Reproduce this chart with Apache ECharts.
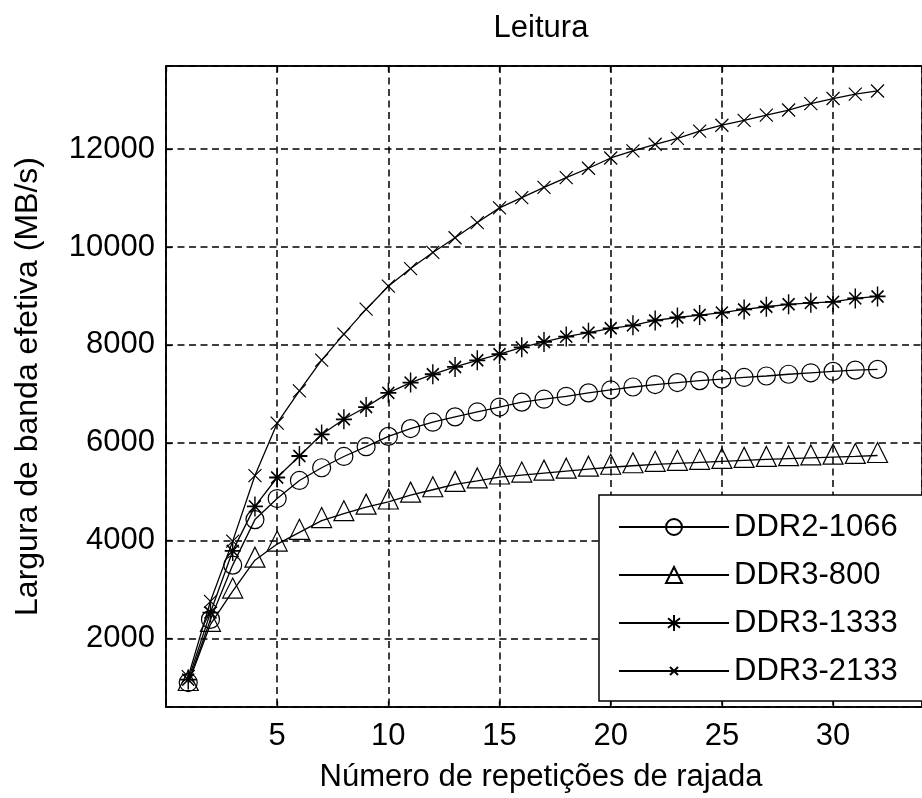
<!DOCTYPE html>
<html>
<head>
<meta charset="utf-8">
<script src="https://cdn.jsdelivr.net/npm/echarts@6/dist/echarts.min.js"></script>
<style>
html,body{margin:0;padding:0;background:#fff;}
#c{width:922px;height:798px;}
</style>
</head>
<body>
<div id="c"></div>
<script>
// ---- data ----
const reps = [1,2,3,4,5,6,7,8,9,10,11,12,13,14,15,16,17,18,19,20,21,22,23,24,25,26,27,28,29,30,31,32];
const ddr2_1066 = [1100,2390,3500,4430,4860,5230,5490,5720,5920,6130,6290,6420,6530,6630,6730,6830,6890,6950,7020,7080,7140,7190,7230,7270,7300,7335,7365,7400,7430,7460,7485,7500];
const ddr3_800  = [1080,2290,2970,3600,3930,4170,4410,4550,4685,4790,4930,5040,5150,5220,5300,5340,5380,5420,5460,5500,5530,5560,5580,5600,5620,5640,5660,5675,5690,5705,5720,5740];
const ddr3_1333 = [1160,2530,3790,4700,5290,5730,6170,6480,6730,7020,7230,7400,7550,7685,7810,7950,8060,8170,8250,8340,8400,8500,8560,8610,8660,8725,8780,8830,8860,8880,8950,8990];
const ddr3_2133 = [1220,2760,3990,5330,6400,7060,7690,8220,8730,9200,9560,9890,10190,10500,10800,11010,11220,11420,11610,11820,11965,12100,12220,12370,12490,12590,12695,12800,12930,13035,13125,13190];
const seriesNames = ['DDR2-1066','DDR3-800','DDR3-1333','DDR3-2133'];
const titleText = 'Leitura';
const xLabel = 'Número de repetições de rajada';
const yLabel = 'Largura de banda efetiva (MB/s)';

const FONT = "'Liberation Sans', Arial, Helvetica, sans-serif";
const chart = echarts.init(document.getElementById('c'), null, {renderer:'canvas'});

function mk(name, vals, symbol, size, offset, bw) {
  return {
    name: name,
    type: 'line',
    data: reps.map((x, i) => [x, vals[i]]),
    symbol: symbol,
    symbolSize: size,
    symbolOffset: offset,
    symbolKeepAspect: false,
    lineStyle: {color: '#000', width: 1.3},
    itemStyle: {color: 'rgba(0,0,0,0)', borderColor: '#000', borderWidth: bw},
    emphasis: {disabled: true},
    silent: true,
    animation: false
  };
}

const STAR = 'path://M0,-10L0,10M-8,0L8,0M-6,-6L6,6M-6,6L6,-6';
const CROSS = 'path://M-2,-2M2,2M-1,-1L1,1M-1,1L1,-1';

const option = {
  backgroundColor: '#fff',
  animation: false,
  title: [
    {text: titleText, left: 536, top: 23, textAlign: 'center', textVerticalAlign: 'middle',
     textStyle: {fontSize: 31, fontWeight: 'normal', color: '#000', fontFamily: FONT}},
    {text: xLabel, left: 536, top: 772, textAlign: 'center', textVerticalAlign: 'middle',
     textStyle: {fontSize: 31, fontWeight: 'normal', color: '#000', fontFamily: FONT}}
  ],
  grid: {left: 166, top: 66, right: -39, bottom: 91, show: true, borderColor: '#000', borderWidth: 1.5, backgroundColor: '#fff'},
  // legend frame (extends past the right edge of the picture, as in the reference)
  graphic: [{
    type: 'rect', z: 3, silent: true,
    shape: {x: 599, y: 495, width: 400, height: 206},
    style: {fill: '#fff', stroke: '#000', lineWidth: 1.5}
  }],
  legend: {
    orient: 'vertical', left: 599, top: 495,
    padding: [16, 20, 15, 19],
    itemWidth: 110, itemHeight: 20, itemGap: 16,
    z: 5,
    selectedMode: false,
    textStyle: {fontSize: 31, color: '#000', fontFamily: FONT, lineHeight: 32},
    data: seriesNames
  },
  xAxis: [
    {
      type: 'value', min: 0, max: 34, minInterval: 5, maxInterval: 5,
      axisLine: {show: true, onZero: false, lineStyle: {color: '#000', width: 1.5}},
      axisTick: {show: true, inside: true, length: 6, lineStyle: {color: '#000', width: 1.3}},
      axisLabel: {showMinLabel: false, showMaxLabel: false, margin: 14, fontSize: 31, color: '#000', fontFamily: FONT,
                  formatter: v => String(v)},
      splitLine: {show: true, lineStyle: {type: [7, 4.5], color: '#000', width: 1.5}}
    },
    {
      type: 'value', position: 'top', min: 0, max: 34, minInterval: 5, maxInterval: 5,
      axisLine: {show: true, onZero: false, lineStyle: {color: '#000', width: 1.5}},
      axisTick: {show: true, inside: true, length: 6, lineStyle: {color: '#000', width: 1.3}},
      axisLabel: {show: false},
      splitLine: {show: false}
    }
  ],
  yAxis: {
    type: 'value', min: 600, max: 13700, minInterval: 2000, maxInterval: 2000,
    name: yLabel, nameLocation: 'middle', nameGap: 122, nameRotate: 90,
    nameTextStyle: {fontSize: 32, color: '#000', fontFamily: FONT},
    axisLine: {show: true, onZero: false, lineStyle: {color: '#000', width: 1.5}},
    axisTick: {show: true, inside: true, length: 6, lineStyle: {color: '#000', width: 1.3}},
    axisLabel: {showMinLabel: false, showMaxLabel: false, margin: 11, fontSize: 31, color: '#000', fontFamily: FONT,
                formatter: v => String(v)},
    splitLine: {show: true, lineStyle: {type: [7, 4.5], color: '#000', width: 1.5}}
  },
  series: [
    mk(seriesNames[0], ddr2_1066, 'circle', 18, [0, 0], 1.2),
    mk(seriesNames[1], ddr3_800, 'triangle', [20, 20], [0, -3], 1.2),
    mk(seriesNames[2], ddr3_1333, STAR, [16, 20], [0, 0], 1.6),
    mk(seriesNames[3], ddr3_2133, CROSS, 26, [0, 0], 1.2)
  ]
};
chart.setOption(option);
</script>
</body>
</html>
